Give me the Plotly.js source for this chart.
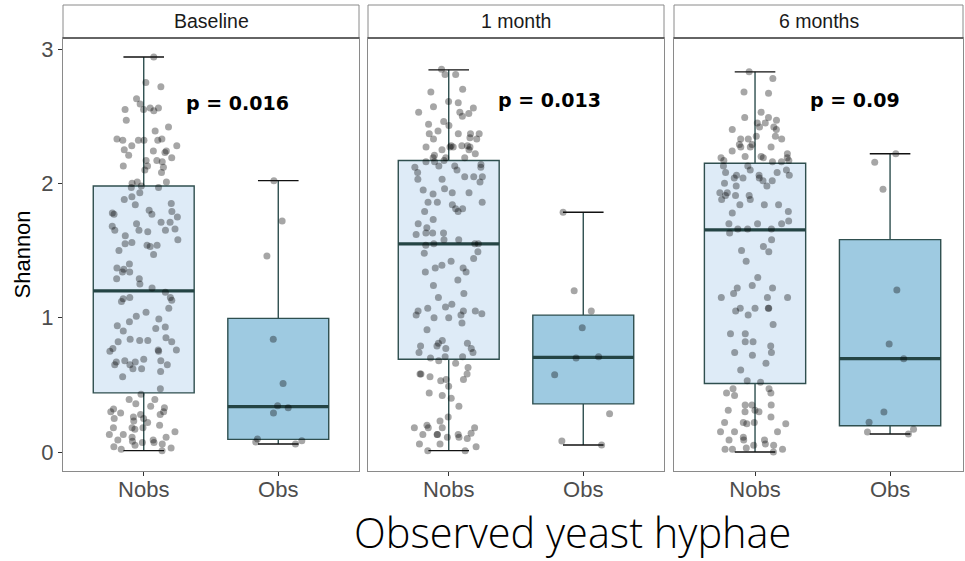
<!DOCTYPE html>
<html><head><meta charset="utf-8">
<script src="https://cdn.plot.ly/plotly-3.0.1.min.js"></script>
<style>html,body{margin:0;padding:0;background:#fff}#chart{width:965px;height:561px}</style>
</head><body><div id="chart"></div>
<script>
const categories = ['Nobs', 'Obs'];
const panels = ['Baseline', '1 month', '6 months'];
const pLabels = ['p = 0.016', 'p = 0.013', 'p = 0.09'];

// Shannon values, Nobs group, Baseline
const nobsBaseline = [2.94, 2.75, 2.72, 2.63, 2.59, 2.56, 2.56, 2.55, 2.55, 2.54, 2.47, 2.42, 2.39, 2.33, 2.33, 2.32, 2.32, 2.32, 2.32, 2.28, 2.28, 2.25, 2.24, 2.24, 2.23, 2.21, 2.19, 2.17, 2.17, 2.16, 2.13, 2.13, 2.12, 2.10, 2.08, 2.01, 2.01, 2.00, 1.98, 1.97, 1.97, 1.93, 1.90, 1.88, 1.85, 1.84, 1.80, 1.79, 1.78, 1.77, 1.77, 1.75, 1.71, 1.71, 1.70, 1.68, 1.66, 1.65, 1.65, 1.65, 1.64, 1.61, 1.58, 1.56, 1.55, 1.53, 1.54, 1.54, 1.47, 1.50, 1.40, 1.37, 1.36, 1.34, 1.34, 1.29, 1.29, 1.25, 1.22, 1.19, 1.15, 1.15, 1.14, 1.13, 1.12, 1.07, 1.04, 1.01, 0.99, 0.97, 0.94, 0.92, 0.93, 0.90, 0.85, 0.84, 0.83, 0.83, 0.82, 0.82, 0.77, 0.76, 0.76, 0.75, 0.75, 0.69, 0.68, 0.68, 0.67, 0.67, 0.65, 0.65, 0.65, 0.62, 0.62, 0.60, 0.56, 0.47, 0.43, 0.39, 0.39, 0.36, 0.34, 0.33, 0.32, 0.30, 0.30, 0.29, 0.28, 0.28, 0.26, 0.25, 0.25, 0.23, 0.22, 0.20, 0.18, 0.18, 0.18, 0.17, 0.15, 0.13, 0.13, 0.11, 0.11, 0.09, 0.09, 0.08, 0.07, 0.07, 0.06, 0.05, 0.04, 0.03, 0.02, 0.01];
const obsBaseline = [2.02, 1.72, 1.46, 0.84, 0.51, 0.345, 0.33, 0.29, 0.097, 0.075, 0.084, 0.06];

// 1 month
const nobs1m = [2.85, 2.81, 2.81, 2.70, 2.68, 2.61, 2.60, 2.57, 2.56, 2.53, 2.53, 2.52, 2.50, 2.46, 2.44, 2.43, 2.39, 2.37, 2.37, 2.37, 2.37, 2.34, 2.33, 2.33, 2.28, 2.28, 2.28, 2.27, 2.27, 2.27, 2.27, 2.25, 2.25, 2.22, 2.21, 2.19, 2.19, 2.19, 2.17, 2.16, 2.16, 2.14, 2.13, 2.12, 2.12, 2.13, 2.10, 2.08, 2.05, 2.05, 2.05, 2.03, 2.03, 2.01, 1.96, 1.95, 1.93, 1.93, 1.92, 1.86, 1.86, 1.86, 1.84, 1.81, 1.81, 1.79, 1.79, 1.73, 1.70, 1.67, 1.63, 1.63, 1.63, 1.62, 1.58, 1.58, 1.55, 1.55, 1.55, 1.54, 1.49, 1.48, 1.44, 1.42, 1.39, 1.37, 1.37, 1.34, 1.34, 1.28, 1.24, 1.18, 1.15, 1.10, 1.08, 1.07, 1.05, 1.05, 1.05, 1.03, 1.02, 1.02, 1.00, 1.00, 0.96, 0.91, 0.83, 0.81, 0.81, 0.79, 0.79, 0.77, 0.77, 0.74, 0.74, 0.71, 0.71, 0.70, 0.68, 0.66, 0.63, 0.58, 0.58, 0.58, 0.56, 0.54, 0.54, 0.53, 0.49, 0.44, 0.42, 0.40, 0.34, 0.26, 0.23, 0.20, 0.18, 0.18, 0.18, 0.18, 0.14, 0.13, 0.13, 0.13, 0.13, 0.11, 0.11, 0.10, 0.06, 0.06, 0.04, 0.01, 0.01];
const obs1m = [1.785, 1.20, 1.05, 0.925, 0.71, 0.70, 0.576, 0.285, 0.082, 0.052];

// 6 months
const nobs6m = [2.83, 2.78, 2.68, 2.67, 2.53, 2.49, 2.49, 2.47, 2.45, 2.45, 2.42, 2.42, 2.40, 2.40, 2.35, 2.35, 2.33, 2.33, 2.33, 2.29, 2.29, 2.27, 2.27, 2.27, 2.24, 2.22, 2.20, 2.20, 2.19, 2.19, 2.19, 2.17, 2.17, 2.16, 2.16, 2.13, 2.13, 2.10, 2.10, 2.08, 2.08, 2.06, 2.06, 2.06, 2.04, 2.04, 2.04, 2.02, 2.02, 2.00, 1.98, 1.98, 1.93, 1.93, 1.91, 1.91, 1.91, 1.88, 1.88, 1.84, 1.84, 1.84, 1.79, 1.78, 1.72, 1.70, 1.70, 1.70, 1.66, 1.66, 1.66, 1.63, 1.58, 1.50, 1.53, 1.49, 1.42, 1.30, 1.24, 1.22, 1.22, 1.18, 1.15, 1.15, 1.15, 1.07, 1.07, 1.07, 1.07, 1.05, 1.02, 0.95, 0.88, 0.88, 0.82, 0.82, 0.79, 0.74, 0.74, 0.72, 0.66, 0.61, 0.53, 0.52, 0.47, 0.47, 0.44, 0.44, 0.42, 0.35, 0.35, 0.35, 0.31, 0.31, 0.30, 0.30, 0.26, 0.22, 0.22, 0.22, 0.21, 0.21, 0.15, 0.15, 0.15, 0.11, 0.09, 0.09, 0.09, 0.06, 0.05, 0.05, 0.03, 0.02, 0.02, 0.02, 0.00];
const obs6m = [2.22, 2.157, 1.956, 1.206, 0.804, 0.695, 0.298, 0.221, 0.169, 0.149, 0.134];

// box statistics: [lower whisker, Q1, median, Q3, upper whisker]
const statsBaselineNobs = [0.01, 0.44, 1.20, 1.98, 2.94];
const statsBaselineObs = [0.06, 0.094, 0.338, 0.995, 2.02];
const stats1mNobs = [0.01, 0.69, 1.55, 2.17, 2.845];
const stats1mObs = [0.052, 0.358, 0.705, 1.019, 1.785];
const stats6mNobs = [0.00, 0.51, 1.653, 2.15, 2.83];
const stats6mObs = [0.134, 0.195, 0.695, 1.581, 2.22];

const BOXW = 0.75;
const lineCol = '#2F4F4F';
const fills = ['#deebf7', '#9ecae1'];
const tickFont = {family: 'Liberation Sans, Arial, sans-serif', size: 22, color: '#4d4d4d'};

const traces = [];
function addPanel(i, nobs, obs, sN, sO) {
  const xa = i === 0 ? 'x' : 'x' + (i + 1);
  const ya = i === 0 ? 'y' : 'y' + (i + 1);
  const common = {xaxis: xa, yaxis: ya, hoverinfo: 'skip', showlegend: false, width: BOXW};
  [sN, sO].forEach((s, k) => {
    traces.push(Object.assign({
      type: 'box', x: [categories[k]],
      lowerfence: [s[0]], q1: [s[1]], median: [s[2]], q3: [s[3]], upperfence: [s[4]],
      fillcolor: fills[k], line: {color: lineCol, width: 1.4}, whiskerwidth: 0, boxpoints: false
    }, common));
  });
  // thicker median line
  traces.push(Object.assign({
    type: 'box', x: categories,
    lowerfence: [sN[2], sO[2]], q1: [sN[2], sO[2]], median: [sN[2], sO[2]], q3: [sN[2], sO[2]], upperfence: [sN[2], sO[2]],
    fillcolor: 'rgba(0,0,0,0)', line: {color: '#244444', width: 3.2}, whiskerwidth: 0, boxpoints: false
  }, common));
  // jittered points
  [nobs, obs].forEach((arr, k) => {
    traces.push(Object.assign({
      type: 'box', x: arr.map(() => categories[k]), y: arr,
      boxpoints: 'all', jitter: 0.7, pointpos: 0,
      fillcolor: 'rgba(0,0,0,0)', line: {color: 'rgba(0,0,0,0)', width: 0}, whiskerwidth: 0,
      marker: {color: 'rgba(0,0,0,0.35)', size: 7, line: {width: 0}}
    }, common));
  });
  // whisker caps (error-bar ends)
  traces.push({
    type: 'scatter', mode: 'markers', xaxis: xa, yaxis: ya, hoverinfo: 'skip', showlegend: false,
    x: [categories[0], categories[0], categories[1], categories[1]],
    y: [sN[0], sN[4], sO[0], sO[4]],
    marker: {symbol: 'line-ew-open', size: 29, color: '#111', line: {width: 1.4, color: '#111'}},
    cliponaxis: false
  });
}
addPanel(0, nobsBaseline, obsBaseline, statsBaselineNobs, statsBaselineObs);
addPanel(1, nobs1m, obs1m, stats1mNobs, stats1mObs);
addPanel(2, nobs6m, obs6m, stats6mNobs, stats6mObs);

const W = 965, H = 561, ML = 63, MR = 0, MT = 38, MB = 90;
const PW = W - ML - MR, PH = H - MT - MB;
const px2x = p => (p - ML) / PW;
const px2y = p => (H - MB - p) / PH;
const domains = [[px2x(63), px2x(359)], [px2x(368), px2x(664)], [px2x(674), px2x(963)]];
const xranges = [[-0.6, 1.6], [-0.6, 1.6], [-0.6, 1.54]];
const yrange = [-0.1414, 3.082];

const layout = {
  width: W, height: H,
  margin: {l: ML, r: MR, t: MT, b: MB, pad: 0},
  paper_bgcolor: '#fff', plot_bgcolor: '#fff',
  boxmode: 'overlay', showlegend: false,
  shapes: [], annotations: []
};
for (let i = 0; i < 3; i++) {
  const sx = i === 0 ? '' : String(i + 1);
  layout['xaxis' + sx] = {
    domain: domains[i], anchor: 'y' + sx, type: 'category',
    categoryorder: 'array', categoryarray: categories, range: xranges[i],
    showline: true, mirror: true, linecolor: '#8a8a8a', linewidth: 1,
    ticks: 'outside', ticklen: 4, tickcolor: '#333', tickwidth: 1, ticklabelstandoff: -5,
    tickfont: tickFont, showgrid: false, zeroline: false, fixedrange: true
  };
  layout['yaxis' + sx] = {
    domain: [0, 1], anchor: 'x' + sx, range: yrange, tickvals: [0, 1, 2, 3],
    showline: true, mirror: true, linecolor: '#8a8a8a', linewidth: 1,
    ticks: i === 0 ? 'outside' : '', ticklen: 4, tickcolor: '#333', tickwidth: 1,
    showticklabels: i === 0, tickfont: tickFont,
    showgrid: false, zeroline: false, fixedrange: true
  };
  // facet strip
  layout.shapes.push({type: 'rect', xref: 'paper', yref: 'paper', x0: domains[i][0], x1: domains[i][1],
    y0: 1, y1: px2y(5), fillcolor: '#fff', line: {color: '#8a8a8a', width: 1}});
  layout.shapes.push({type: 'line', xref: 'paper', yref: 'paper', x0: domains[i][0], x1: domains[i][1],
    y0: 1, y1: 1, line: {color: '#444', width: 1.4}});
  layout.annotations.push({xref: 'paper', yref: 'paper', x: (domains[i][0] + domains[i][1]) / 2, y: px2y(21.5),
    text: panels[i], showarrow: false, xanchor: 'center', yanchor: 'middle',
    font: {family: 'Liberation Sans, Arial, sans-serif', size: 19.5, color: '#1a1a1a'}});
}
const pPos = [[0.70, 2.60], [0.75, 2.62], [0.74, 2.62]];
for (let i = 0; i < 3; i++) {
  const sx = i === 0 ? '' : String(i + 1);
  layout.annotations.push({xref: 'x' + sx, yref: 'y' + sx, x: pPos[i][0], y: pPos[i][1], text: '<b>' + pLabels[i] + '</b>',
    showarrow: false, xanchor: 'center', yanchor: 'middle',
    font: {family: 'DejaVu Sans, sans-serif', size: 19, color: '#000'}});
}
layout.annotations.push({xref: 'paper', yref: 'paper', x: px2x(22), y: 0.5, text: 'Shannon', textangle: -90,
  showarrow: false, xanchor: 'center', yanchor: 'middle',
  font: {family: 'Liberation Sans, Arial, sans-serif', size: 22, color: '#000'}});
layout.annotations.push({xref: 'paper', yref: 'paper', x: px2x(572), y: px2y(531.5), text: 'Observed yeast hyphae',
  showarrow: false, xanchor: 'center', yanchor: 'middle',
  font: {family: 'Open Sans, sans-serif', size: 41.5, weight: 300, color: '#000'}});

Plotly.newPlot('chart', traces, layout, {staticPlot: true, displayModeBar: false});
</script>
</body></html>
